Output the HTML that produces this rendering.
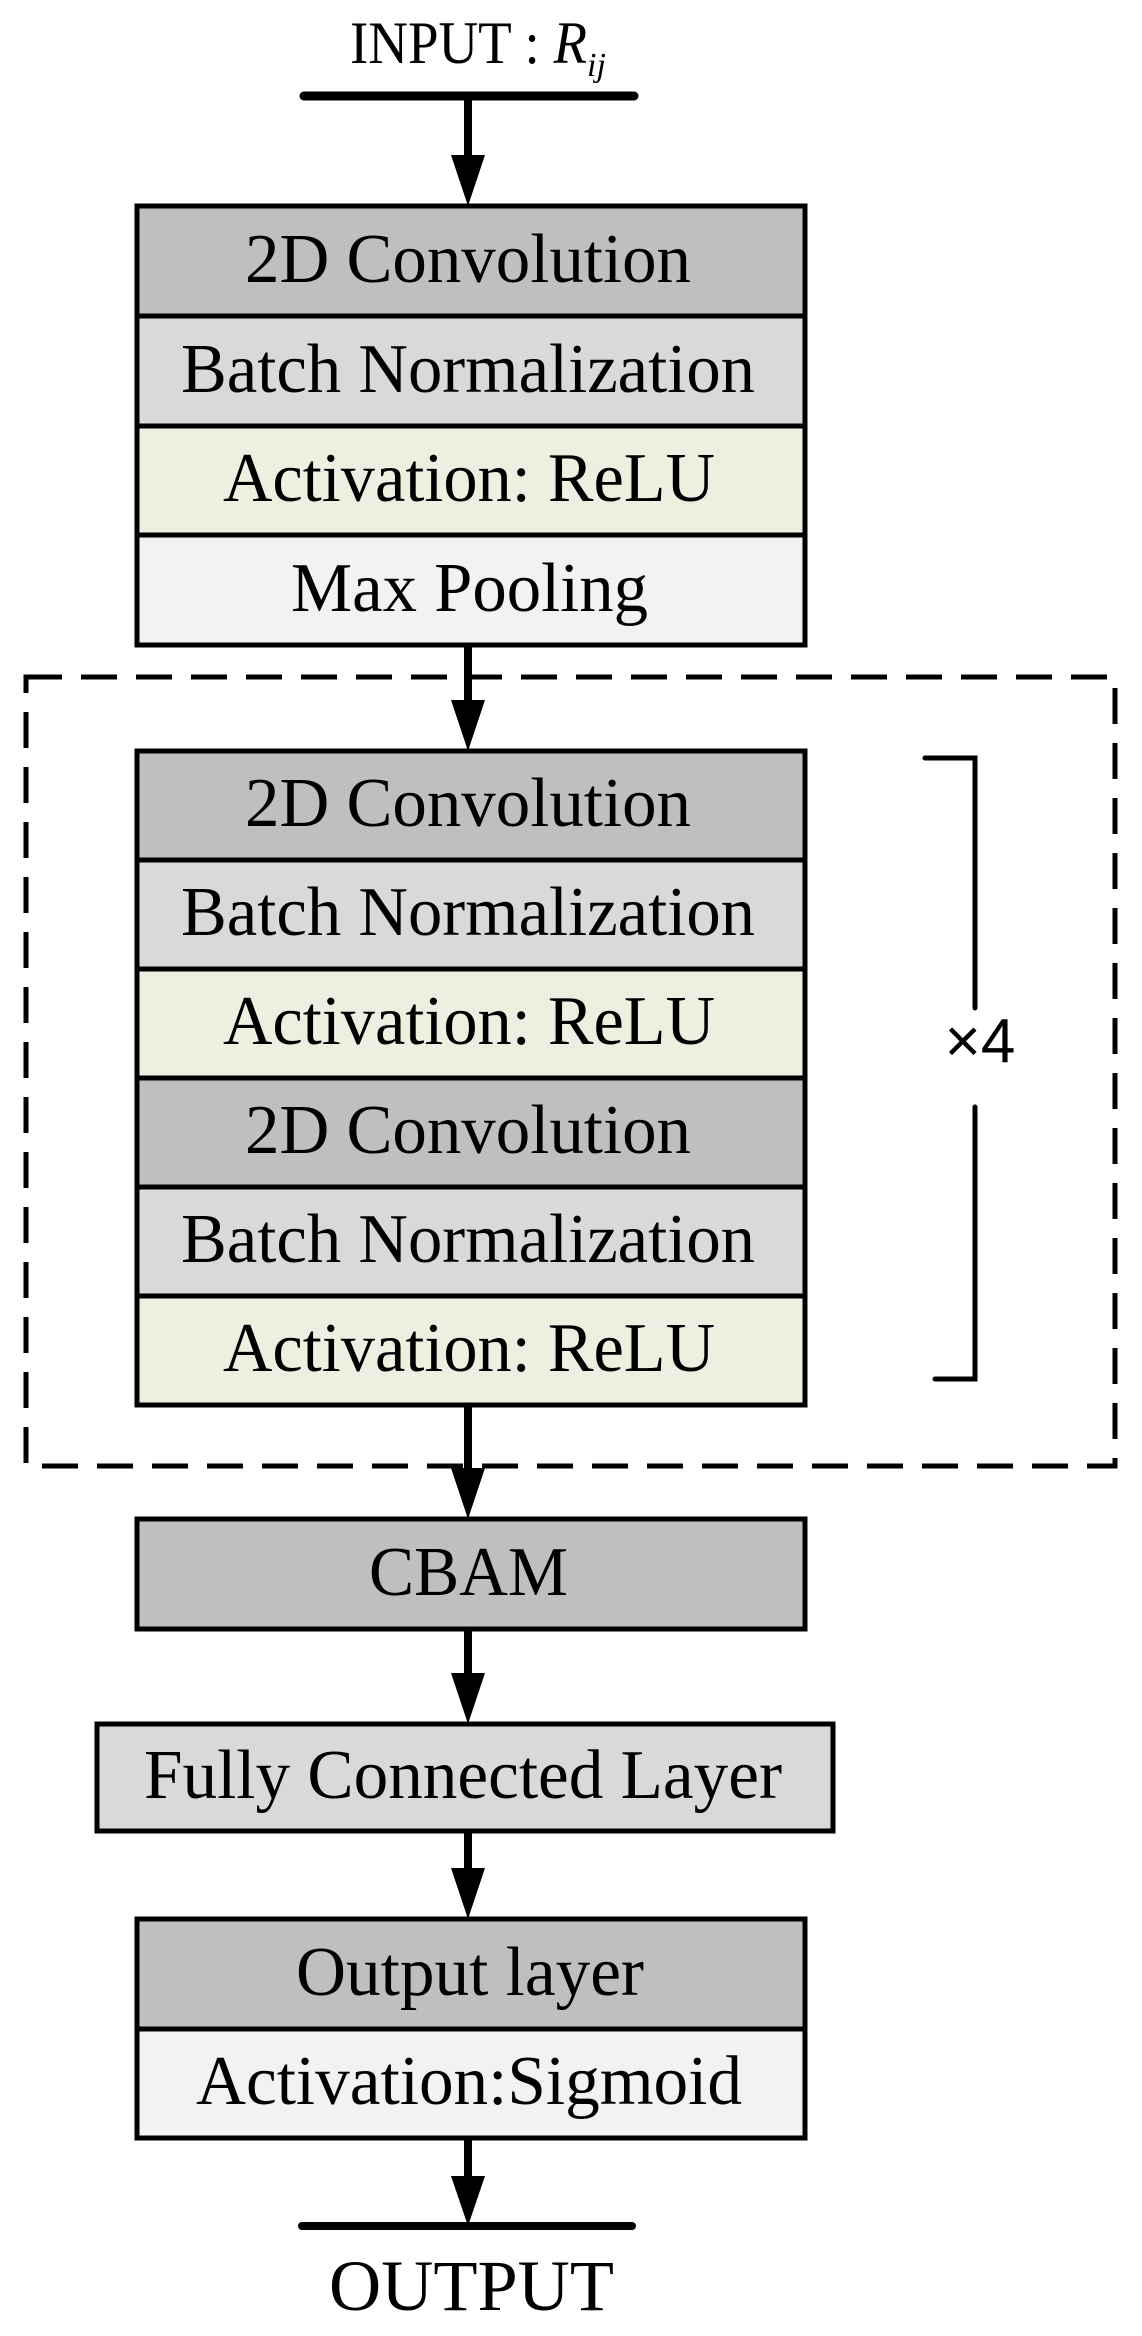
<!DOCTYPE html>
<html><head><meta charset="utf-8"><style>
html,body{margin:0;padding:0;background:#fff;}
svg{display:block;}
text{font-family:"Liberation Serif",serif;fill:#000;}
</style></head><body>
<svg width="1142" height="2336" viewBox="0 0 1142 2336" xmlns="http://www.w3.org/2000/svg">
<!-- input -->
<text x="350" y="63" font-size="60" textLength="237" lengthAdjust="spacingAndGlyphs">INPUT : <tspan font-style="italic">R</tspan></text>
<text x="587" y="76" font-size="34" font-style="italic">ij</text>
<line x1="304" y1="96" x2="634" y2="96" stroke="#000" stroke-width="9" stroke-linecap="round"/>
<g fill="none" stroke="#000" stroke-width="8">
<path d="M468,96 V160"/><polygon points="451,155 485,155 468,206" fill="#000" stroke="none"/>
<path d="M468,645 V705"/><polygon points="451,700 485,700 468,751" fill="#000" stroke="none"/>
<path d="M468,1405 V1470"/><polygon points="451,1468 485,1468 468,1519" fill="#000" stroke="none"/>
<path d="M468,1629 V1678"/><polygon points="451,1673 485,1673 468,1724" fill="#000" stroke="none"/>
<path d="M468,1831 V1872"/><polygon points="451,1868 485,1868 468,1919" fill="#000" stroke="none"/>
<path d="M468,2138 V2180"/><polygon points="451,2176 485,2176 468,2226" fill="#000" stroke="none"/>
</g>
<!-- dashed -->
<rect x="26" y="677" width="1089" height="789" fill="none" stroke="#000" stroke-width="5" stroke-dasharray="36 19"/>
<g stroke="#000" stroke-width="5">
<rect x="137" y="206" width="668" height="110" fill="#bfbfbf"/>
<rect x="137" y="316" width="668" height="110" fill="#d9d9d9"/>
<rect x="137" y="426" width="668" height="109" fill="#ebf0e0"/>
<rect x="137" y="535" width="668" height="110" fill="#f2f2f2"/>
<rect x="137" y="751" width="668" height="109" fill="#bfbfbf"/>
<rect x="137" y="860" width="668" height="109" fill="#d9d9d9"/>
<rect x="137" y="969" width="668" height="109" fill="#ebf0e0"/>
<rect x="137" y="1078" width="668" height="109" fill="#bfbfbf"/>
<rect x="137" y="1187" width="668" height="109" fill="#d9d9d9"/>
<rect x="137" y="1296" width="668" height="109" fill="#ebf0e0"/>
<rect x="137" y="1519" width="668" height="110" fill="#bfbfbf"/>
<rect x="97" y="1724" width="736" height="107" fill="#d9d9d9"/>
<rect x="137" y="1919" width="668" height="110" fill="#bfbfbf"/>
<rect x="137" y="2029" width="668" height="109" fill="#f2f2f2"/>
</g>
<g font-size="70" lengthAdjust="spacingAndGlyphs">
<text x="245" y="282" textLength="446" lengthAdjust="spacingAndGlyphs">2D Convolution</text>
<text x="181" y="392" textLength="574" lengthAdjust="spacingAndGlyphs">Batch Normalization</text>
<text x="223" y="501" textLength="492" lengthAdjust="spacingAndGlyphs">Activation: ReLU</text>
<text x="291" y="611" textLength="357" lengthAdjust="spacingAndGlyphs">Max Pooling</text>
<text x="245" y="826" textLength="446" lengthAdjust="spacingAndGlyphs">2D Convolution</text>
<text x="181" y="935" textLength="574" lengthAdjust="spacingAndGlyphs">Batch Normalization</text>
<text x="223" y="1044" textLength="492" lengthAdjust="spacingAndGlyphs">Activation: ReLU</text>
<text x="245" y="1153" textLength="446" lengthAdjust="spacingAndGlyphs">2D Convolution</text>
<text x="181" y="1262" textLength="574" lengthAdjust="spacingAndGlyphs">Batch Normalization</text>
<text x="223" y="1371" textLength="492" lengthAdjust="spacingAndGlyphs">Activation: ReLU</text>
<text x="369" y="1595" textLength="199" lengthAdjust="spacingAndGlyphs">CBAM</text>
<text x="144" y="1798" textLength="638" lengthAdjust="spacingAndGlyphs">Fully Connected Layer</text>
<text x="296" y="1995" textLength="348" lengthAdjust="spacingAndGlyphs">Output layer</text>
<text x="196" y="2104" textLength="546" lengthAdjust="spacingAndGlyphs">Activation:Sigmoid</text>
<text x="329" y="2310" font-size="72" textLength="285" lengthAdjust="spacingAndGlyphs">OUTPUT</text>
</g>
<!-- bracket -->
<g fill="none" stroke="#000" stroke-width="5" stroke-linecap="round">
<path d="M925,758 H975 V1008"/>
<path d="M975,1107 V1379 H935"/>
</g>
<text x="980" y="1062" font-size="62" text-anchor="middle" style="font-family:'Liberation Sans',sans-serif">×4</text>
<line x1="302" y1="2226" x2="632" y2="2226" stroke="#000" stroke-width="8" stroke-linecap="round"/>
</svg>
</body></html>
